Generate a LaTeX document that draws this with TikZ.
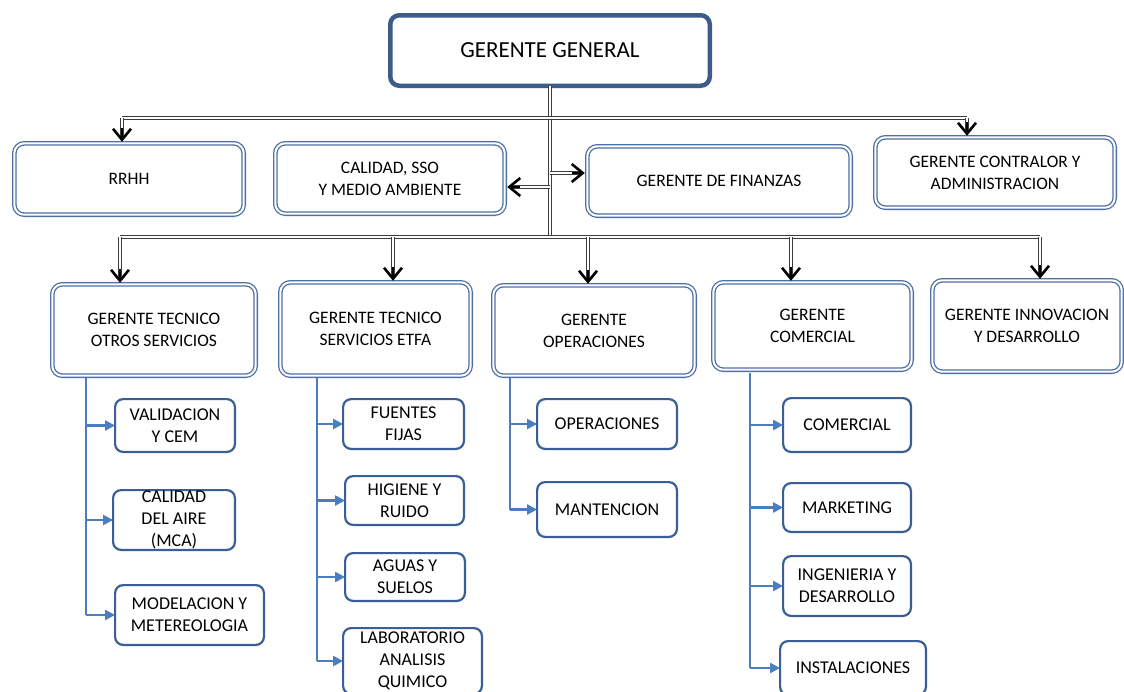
\documentclass[tikz,border=0pt]{standalone}
\usepackage{fontspec}
\setmainfont{Carlito}
\usetikzlibrary{arrows.meta,calc}
\definecolor{ggblue}{RGB}{61,92,138}
\definecolor{mblue}{RGB}{79,112,163}
\definecolor{sblue}{RGB}{58,95,150}
\definecolor{lblue}{RGB}{74,126,193}
\definecolor{trunkc}{RGB}{60,60,60}
\tikzset{
  gbox/.style={draw=ggblue, line width=4.5pt, rounded corners=9pt, fill=white, outer sep=0pt,
    font=\fontsize{23}{27}\selectfont, align=center},
  mbox/.style={draw=mblue, line width=1.3pt, double=white, double distance=2pt, rounded corners=10pt,
    outer sep=0pt, inner sep=1pt, font=\fontsize{17.5}{22}\selectfont, align=center},
  sbox/.style={draw=sblue, line width=2.2pt, rounded corners=8pt, outer sep=0pt, inner sep=0.5pt,
    font=\fontsize{18}{22}\selectfont, align=center},
  trunk/.style={draw=trunkc, line width=1.2pt, double=white, double distance=1.3pt},
  tipst/.style={draw=black, line width=2.6pt, -{Straight Barb[length=11pt,width=18pt]}},
  bl/.style={draw=lblue, line width=2.2pt, -{Triangle[length=10pt,width=10pt]}},
  bline/.style={draw=lblue, line width=2.2pt}
}
\begin{document}
\begin{tikzpicture}[x=1pt,y=-1pt]
\useasboundingbox (0,0) rectangle (1124,691);
\fill[white] (0,0) rectangle (1124,691);
% top
\node[gbox, minimum width=319.5, minimum height=70.5] (gg) at (550,50.5) {GERENTE GENERAL};
% second row
\node[mbox, minimum width=229.4, minimum height=71.4] (rrhh) at (129,179) {RRHH};
\node[mbox, minimum width=229.4, minimum height=70.4] (cal) at (390,178.5) {CALIDAD, SSO\\Y MEDIO AMBIENTE};
\node[mbox, minimum width=263.4, minimum height=69.4] (fin) at (719,181) {GERENTE DE FINANZAS};
\node[mbox, minimum width=239.4, minimum height=70.4] (con) at (995,172.5) {GERENTE CONTRALOR Y\\ADMINISTRACION};
% third row
\node[mbox, minimum width=203.4, minimum height=91.4] (gtos) at (154,330) {GERENTE TECNICO\\OTROS SERVICIOS};
\node[mbox, minimum width=190.4, minimum height=93.4] (gtetfa) at (375.5,329) {GERENTE TECNICO\\SERVICIOS ETFA};
\node[mbox, minimum width=201.4, minimum height=90.4] (gop) at (594,330.5) {GERENTE\\OPERACIONES};
\node[mbox, minimum width=198.4, minimum height=87.4] (gcom) at (812.5,326) {GERENTE\\COMERCIAL};
\node[mbox, minimum width=189.4, minimum height=91.4] (ginn) at (1027,326) {GERENTE INNOVACION\\Y DESARROLLO};
% sub boxes
\node[sbox, minimum width=119.8, minimum height=52.8] (val) at (175,425.5) {VALIDACION\\Y CEM};
\node[sbox, minimum width=121.8, minimum height=59.8] (cda) at (174,520) {CALIDAD\\DEL AIRE\\(MCA)};
\node[sbox, minimum width=148.8, minimum height=59.8] (mod) at (189.5,615) {MODELACION Y\\METEREOLOGIA};
\node[sbox, minimum width=120.8, minimum height=49.8] (ff) at (403.5,424) {FUENTES\\FIJAS};
\node[sbox, minimum width=118.8, minimum height=48.8] (hig) at (404.5,500.5) {HIGIENE Y\\RUIDO};
\node[sbox, minimum width=119.8, minimum height=47.8] (agu) at (405,577) {AGUAS Y\\SUELOS};
\node[sbox, minimum width=138.8, minimum height=65.8] (lab) at (412.5,661) {LABORATORIO\\ANALISIS\\QUIMICO};
\node[sbox, minimum width=139.8, minimum height=49.8] (ops) at (607,424) {OPERACIONES};
\node[sbox, minimum width=139.8, minimum height=54.8] (man) at (607,509.5) {MANTENCION};
\node[sbox, minimum width=127.8, minimum height=53.8] (com) at (847,425) {COMERCIAL};
\node[sbox, minimum width=127.8, minimum height=48.8] (mkt) at (847,507.5) {MARKETING};
\node[sbox, minimum width=127.8, minimum height=59.8] (ing) at (847,586) {INGENIERIA Y\\DESARROLLO};
\node[sbox, minimum width=145.8, minimum height=53.8] (ins) at (853,668) {INSTALACIONES};
% trunk coordinates
\coordinate (ta) at (122,118);
\coordinate (tb) at (967,118);
\coordinate (ba) at (120,237);
\coordinate (bb) at (1040,237);
\coordinate (b2) at (393,237);
\coordinate (b3) at (588,237);
\coordinate (b4) at (791,237);
\coordinate (sc) at (550,187);
\coordinate (sf) at (550,173);
% trunk lines
\draw[trunk] (gg.south) -- (gg.south |- ba);
\draw[trunk] (ta) -- (tb);
\draw[trunk] (ba) -- (bb);
% down arrows
\foreach \c/\n in {ta/rrhh, tb/con, ba/gtos, b2/gtetfa, b3/gop, b4/gcom, bb/ginn}{
  \draw[trunk] (\c) -- ($(\c |- \n.north)+(0,-6)$);
  \draw[tipst] ($(\c |- \n.north)+(0,-15)$) -- ($(\c |- \n.north)+(0,-1.5)$);
}
% side arrows
\draw[trunk] (sc) -- ($(sc -| cal.east)+(6,0)$);
\draw[tipst] ($(sc -| cal.east)+(15,0)$) -- ($(sc -| cal.east)+(2.5,0)$);
\draw[trunk] (sf) -- ($(sf -| fin.west)+(-6,0)$);
\draw[tipst] ($(sf -| fin.west)+(-15,0)$) -- ($(sf -| fin.west)+(-2.5,0)$);
% blue connectors
\coordinate (c1) at (86,378);
\coordinate (c2) at (317,378);
\coordinate (c3) at (510,378);
\coordinate (c4) at (750,373);
\draw[bline] (c1) -- (c1 |- mod.west);
\foreach \n in {val,cda,mod}{\draw[bl] (c1 |- \n.west) -- (\n.west);}
\draw[bline] (c2) -- (c2 |- lab.west);
\foreach \n in {ff,hig,agu,lab}{\draw[bl] (c2 |- \n.west) -- (\n.west);}
\draw[bline] (c3) -- (c3 |- man.west);
\foreach \n in {ops,man}{\draw[bl] (c3 |- \n.west) -- (\n.west);}
\draw[bline] (c4) -- (c4 |- ins.west);
\foreach \n in {com,mkt,ing,ins}{\draw[bl] (c4 |- \n.west) -- (\n.west);}
\end{tikzpicture}
\end{document}
